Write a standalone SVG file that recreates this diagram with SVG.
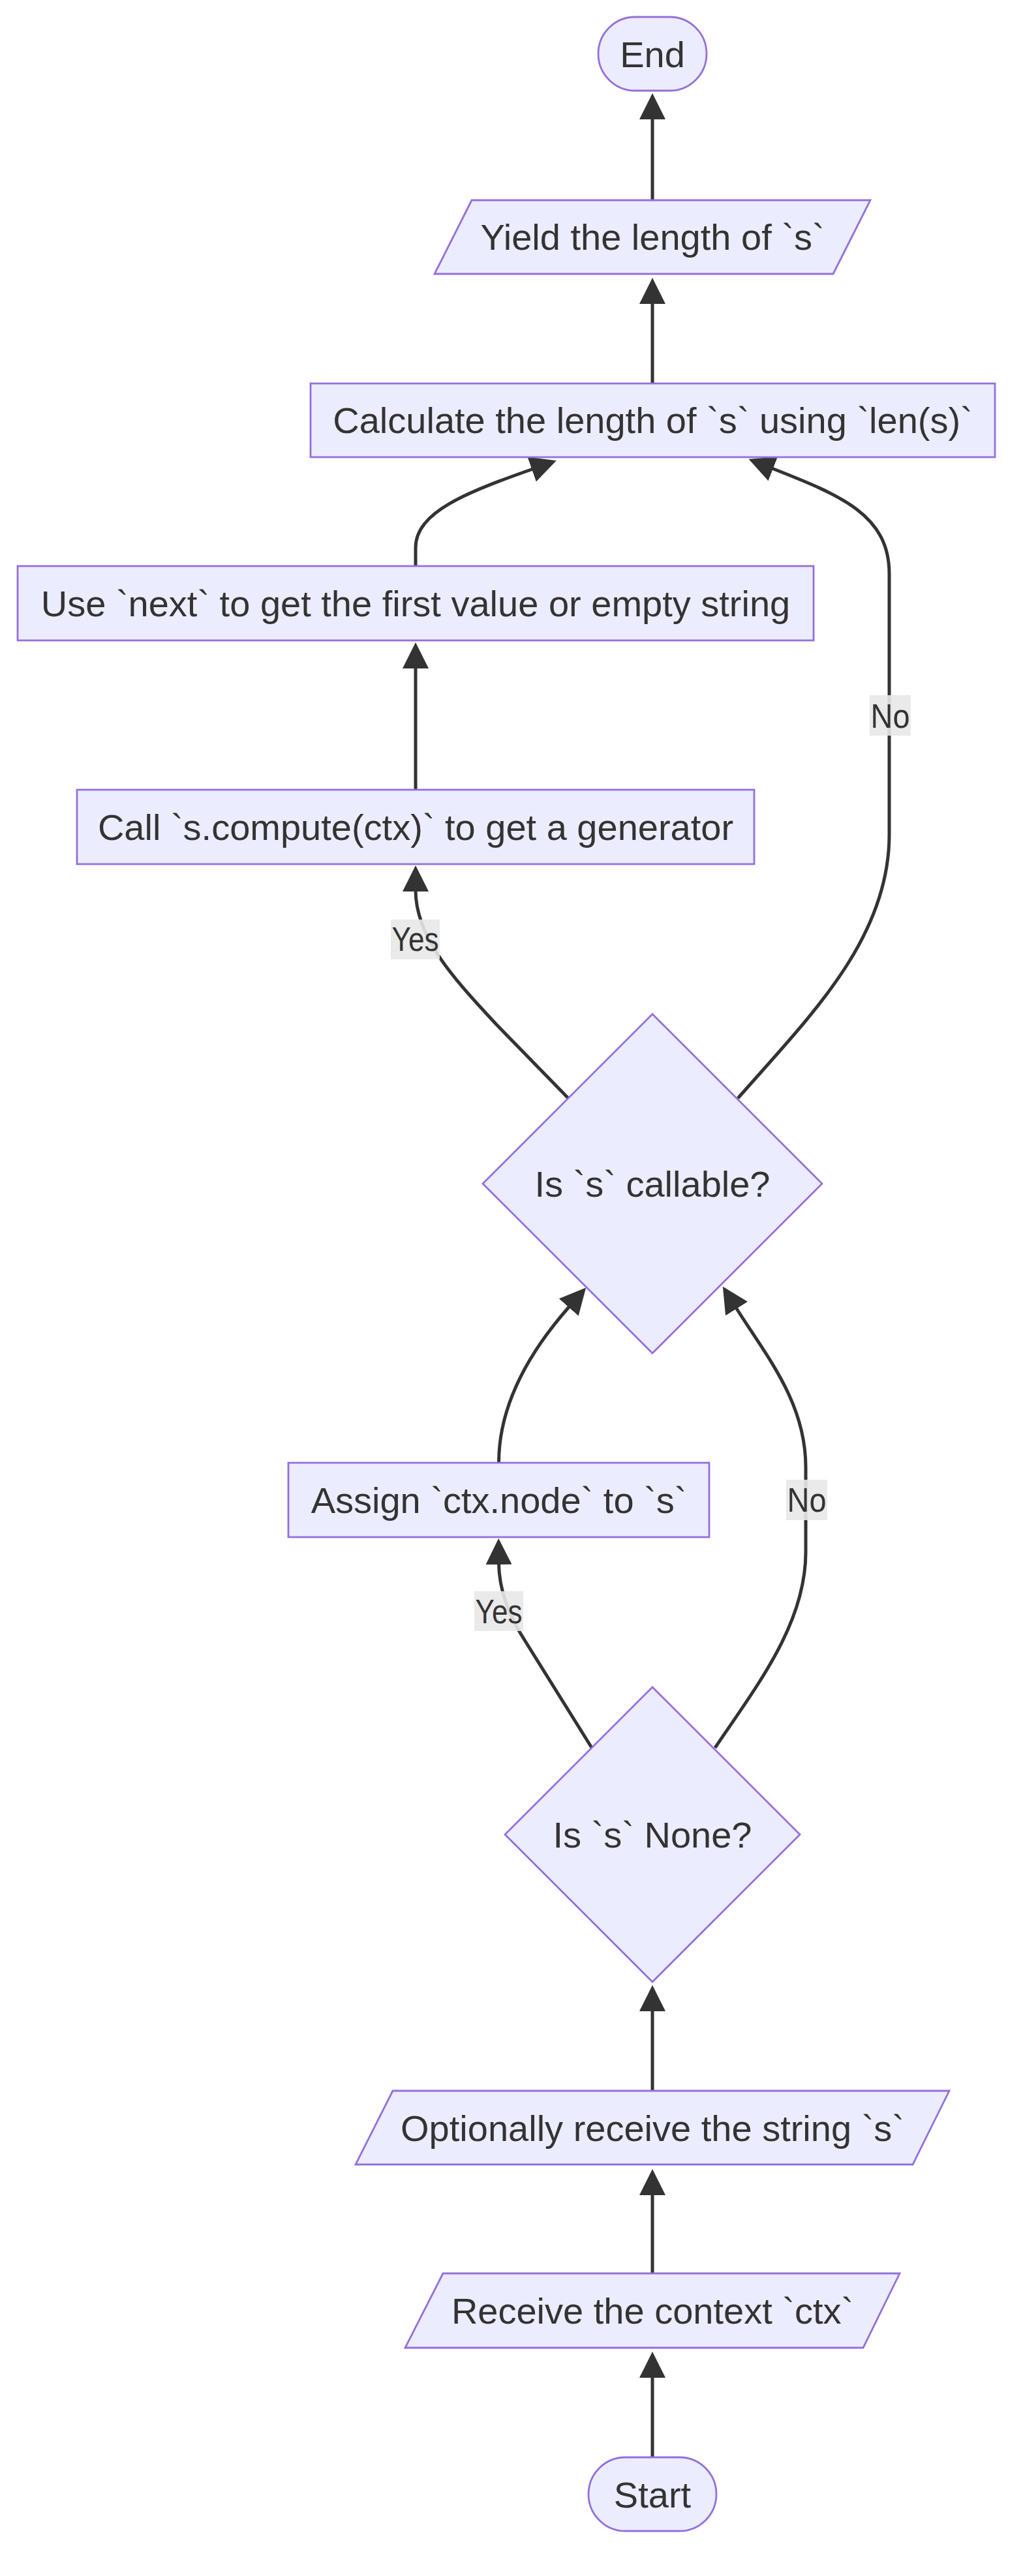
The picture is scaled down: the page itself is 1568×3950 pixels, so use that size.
<svg xmlns="http://www.w3.org/2000/svg" width="1568" height="3950" viewBox="0 0 1568 3950">
<style>
.node{fill:#ECECFF;stroke:#9370DB;stroke-width:2.8}
.lbl{font-family:"Liberation Sans",Arial,sans-serif;font-size:56px;fill:#333333;text-anchor:middle}
.elbl{font-family:"Liberation Sans",Arial,sans-serif;font-size:52px;fill:#333333;text-anchor:middle}
.edge{fill:none;stroke:#333333;stroke-width:5}
.ebg{fill:#e8e8e8;opacity:0.9}
</style>
<defs>
<marker id="arr" markerUnits="userSpaceOnUse" viewBox="0 0 10 10" refX="0.5" refY="5" markerWidth="40" markerHeight="40" orient="auto">
<path d="M0,0 L10,5 L0,10 z" fill="#333333"/>
</marker>
</defs>
<rect width="1568" height="3950" fill="#ffffff"/>
<g id="edges">
<path class="edge" marker-end="url(#arr)" d="M1000,3768 L1000,3644"/>
<path class="edge" marker-end="url(#arr)" d="M1000,3486 L1000,3364"/>
<path class="edge" marker-end="url(#arr)" d="M1000,3206 L1000,3082"/>
<path class="edge" marker-end="url(#arr)" d="M907,2680 L806,2518 Q765,2455 764.5,2397"/>
<path class="edge" marker-end="url(#arr)" d="M1096,2680 C1160,2585 1235,2490 1235,2380 L1235,2250 C1235,2150 1175,2080 1128,2005"/>
<path class="edge" marker-end="url(#arr)" d="M764.5,2243 C764.5,2160 805,2080 873,2003"/>
<path class="edge" marker-end="url(#arr)" d="M871,1684 L760,1570 C700,1505 637,1440 637,1365"/>
<path class="edge" marker-end="url(#arr)" d="M1131,1684 C1240,1560 1363,1440 1363,1280 L1363,880 C1363,790 1290,760 1183,718"/>
<path class="edge" marker-end="url(#arr)" d="M637,1211 L637,1023"/>
<path class="edge" marker-end="url(#arr)" d="M637,868 L637,840 C637,785 715,755 817,719"/>
<path class="edge" marker-end="url(#arr)" d="M1000,588 L1000,464"/>
<path class="edge" marker-end="url(#arr)" d="M1000,307 L1000,181"/>
<g id="edge-labels">
<rect class="ebg" x="599" y="1410" width="75" height="61"/>
<text class="elbl" x="636.5" y="1458" textLength="72" lengthAdjust="spacingAndGlyphs">Yes</text>
<rect class="ebg" x="1333" y="1066" width="63" height="62"/>
<text class="elbl" x="1364.5" y="1116" textLength="60" lengthAdjust="spacingAndGlyphs">No</text>
<rect class="ebg" x="727" y="2440" width="75" height="61"/>
<text class="elbl" x="764.5" y="2489" textLength="72" lengthAdjust="spacingAndGlyphs">Yes</text>
<rect class="ebg" x="1205" y="2269" width="63" height="62"/>
<text class="elbl" x="1236.5" y="2318" textLength="60" lengthAdjust="spacingAndGlyphs">No</text>
</g>
</g>
<g id="End">
<rect class="node" x="917" y="26" width="166" height="113" rx="56.5" ry="56.5"/>
<text class="lbl" x="1000" y="103">End</text>
</g>
<g id="Yield">
<polygon class="node" points="723,307 1334,307 1277,420 666,420"/>
<text class="lbl" x="1000" y="383">Yield the length of `s`</text>
</g>
<g id="Calc">
<rect class="node" x="476" y="588" width="1049" height="113"/>
<text class="lbl" x="1000.5" y="664">Calculate the length of `s` using `len(s)`</text>
</g>
<g id="UseNext">
<rect class="node" x="27" y="868" width="1220" height="114"/>
<text class="lbl" x="637" y="945">Use `next` to get the first value or empty string</text>
</g>
<g id="CallCompute">
<rect class="node" x="118" y="1211" width="1038" height="114"/>
<text class="lbl" x="637" y="1288">Call `s.compute(ctx)` to get a generator</text>
</g>
<g id="IsCallable">
<polygon class="node" points="1000,1555 1260,1815 1000,2075 740,1815"/>
<text class="lbl" x="1000" y="1835">Is `s` callable?</text>
</g>
<g id="Assign">
<rect class="node" x="442" y="2243" width="645" height="114"/>
<text class="lbl" x="764.5" y="2320">Assign `ctx.node` to `s`</text>
</g>
<g id="IsNone">
<polygon class="node" points="1000,2587 1226,2813 1000,3039 774,2813"/>
<text class="lbl" x="1000" y="2833">Is `s` None?</text>
</g>
<g id="Optionally">
<polygon class="node" points="602,3206 1455,3206 1399,3319 545,3319"/>
<text class="lbl" x="1000" y="3283">Optionally receive the string `s`</text>
</g>
<g id="Receive">
<polygon class="node" points="679,3486 1379,3486 1323,3600 621,3600"/>
<text class="lbl" x="1000" y="3563">Receive the context `ctx`</text>
</g>
<g id="Start">
<rect class="node" x="902" y="3768" width="196" height="113" rx="56.5" ry="56.5"/>
<text class="lbl" x="1000" y="3845">Start</text>
</g>
</svg>
